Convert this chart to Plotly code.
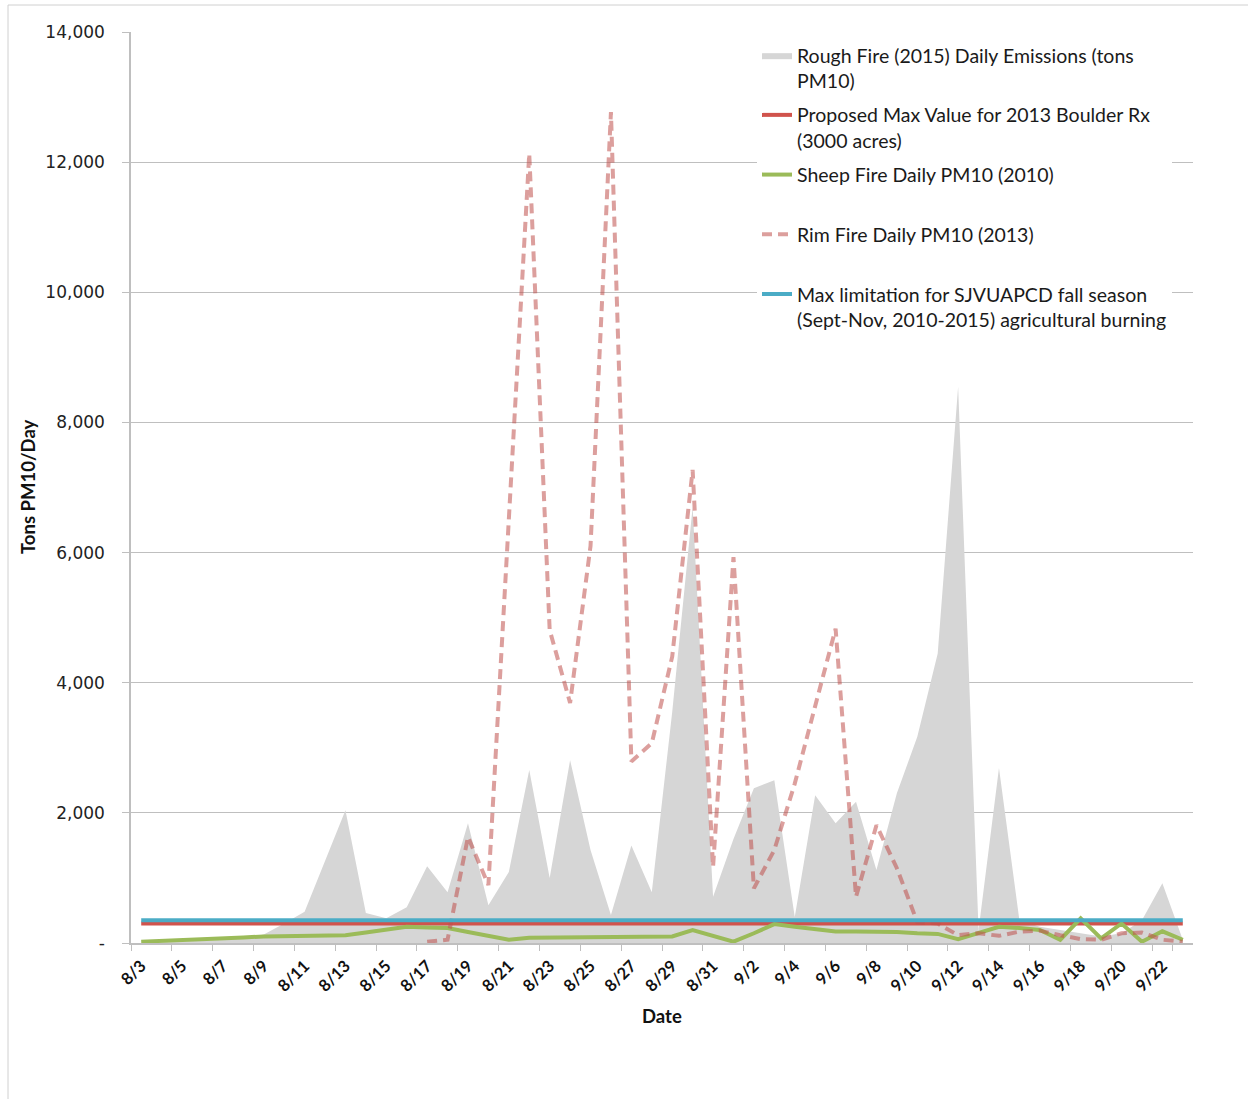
import plotly.graph_objects as go

# ---------------- data ----------------
dates = ["8/3", "8/4", "8/5", "8/6", "8/7", "8/8", "8/9", "8/10", "8/11", "8/12",
         "8/13", "8/14", "8/15", "8/16", "8/17", "8/18", "8/19", "8/20", "8/21", "8/22",
         "8/23", "8/24", "8/25", "8/26", "8/27", "8/28", "8/29", "8/30", "8/31",
         "9/1", "9/2", "9/3", "9/4", "9/5", "9/6", "9/7", "9/8", "9/9", "9/10",
         "9/11", "9/12", "9/13", "9/14", "9/15", "9/16", "9/17", "9/18", "9/19", "9/20",
         "9/21", "9/22", "9/23"]

rough_fire = [0, 10, 20, 30, 50, 70, 130, 300, 480, 1260,
              2040, 460, 380, 550, 1180, 780, 1840, 580, 1090, 2660,
              1000, 2810, 1430, 430, 1500, 780, 3550, 6700, 710,
              1600, 2380, 2500, 400, 2270, 1840, 2170, 1120, 2300, 3170,
              4450, 8550, 200, 2690, 350, 250, 200, 150, 100, 150,
              350, 920, 50]

sheep_fire = [20, 30, 40, 55, 70, 85, 100, 105, 110, 115,
              120, 160, 205, 250, 240, 230, 170, 110, 50, 80,
              82, 85, 88, 90, 93, 96, 100, 200, 110,
              20, 150, 290, 250, 210, 175, 178, 180, 170, 150,
              140, 60, 150, 250, 230, 200, 50, 380, 70, 300,
              20, 180, 50]

rim_fire = [None, None, None, None, None, None, None, None, None, None,
            None, None, None, None, 20, 50, 1630, 890, 6510, 12130,
            4810, 3690, 6100, 12770, 2790, 3070, 4400, 7270, 1170,
            5930, 840, 1430, 2450, 3650, 4830, 710, 1810, 1150, 320,
            300, 120, 150, 110, 175, 190, 120, 60, 50, 150,
            160, 50, 20]

proposed_max_value = 300
sjv_limit_value = 350

y_tick_values = [0, 2000, 4000, 6000, 8000, 10000, 12000, 14000]
y_tick_labels = ["-", "2,000", "4,000", "6,000", "8,000", "10,000", "12,000", "14,000"]
x_tick_labels = dates[::2]

names = [
    "Rough Fire (2015) Daily Emissions (tons<br>PM10)",
    "Proposed Max Value for 2013 Boulder Rx<br>(3000 acres)",
    "Sheep Fire Daily PM10 (2010)<br>\u00a0",
    "Rim Fire Daily PM10 (2013)<br>\u00a0",
    "Max limitation for SJVUAPCD fall season<br>(Sept-Nov, 2010-2015) agricultural burning",
]

# ---------------- layout geometry (pixels) ----------------
W, H = 1248, 1099
L, R, T, B = 131, 1193, 32, 943
pw, ph = R - L, B - T


def px_x(x):
    return (x - L) / pw


def px_y(y):
    return (B - y) / ph


fig = go.Figure()

fig.add_trace(go.Scatter(
    x=dates, y=rough_fire, name=names[0], mode="lines",
    fill="tozeroy", fillcolor="rgb(214,214,214)",
    line=dict(width=0, color="rgb(214,214,214)"),
    legendgroup="g0",
))
fig.add_trace(go.Scatter(
    x=dates, y=[proposed_max_value] * len(dates), name=names[1], mode="lines",
    line=dict(color="#D0534C", width=4),
    legendgroup="g1",
))
fig.add_trace(go.Scatter(
    x=dates, y=sheep_fire, name=names[2], mode="lines",
    line=dict(color="#9BBB59", width=4),
    legendgroup="g2",
))
fig.add_trace(go.Scatter(
    x=dates, y=rim_fire, name=names[3], mode="lines",
    line=dict(color="rgba(192,80,77,0.55)", width=4, dash="10px,6px"),
    connectgaps=False,
    legendgroup="g3",
))
fig.add_trace(go.Scatter(
    x=dates, y=[sjv_limit_value] * len(dates), name=names[4], mode="lines",
    line=dict(color="#4BACC6", width=4),
    legendgroup="g4",
))

fig.update_layout(
    width=W, height=H,
    margin=dict(l=L, r=W - R, t=T, b=H - B),
    paper_bgcolor="white", plot_bgcolor="white",
    font=dict(family="Lato, Open Sans, sans-serif", color="#1a1a1a"),
    showlegend=True,
    legend=dict(
        x=px_x(757), y=px_y(36), xanchor="left", yanchor="top",
        bgcolor="white", borderwidth=0,
        font=dict(family="Lato, sans-serif", size=19.5, color="#1a1a1a"),
        valign="top", tracegroupgap=6, itemwidth=30,
    ),
    xaxis=dict(
        type="category", categoryorder="array", categoryarray=dates,
        range=[-0.5, len(dates) - 0.5],
        tickmode="array", tickvals=x_tick_labels, ticktext=x_tick_labels,
        tickson="boundaries", ticks="outside", ticklen=6, tickcolor="#BFBFBF",
        tickangle=-45, ticklabelstandoff=5,
        tickfont=dict(family="Lato, sans-serif", size=16.5, color="#111111", weight="bold"),
        showline=True, linecolor="#BFBFBF", linewidth=1.5,
        showgrid=False, zeroline=False,
    ),
    yaxis=dict(
        range=[0, 14000],
        tickmode="array", tickvals=y_tick_values, ticktext=y_tick_labels,
        ticks="outside", ticklen=7, tickcolor="#BFBFBF",
        ticklabelstandoff=14,
        tickfont=dict(family="DejaVu Sans, Verdana, sans-serif", size=17, color="#222222"),
        showline=True, linecolor="#BFBFBF", linewidth=1.5,
        showgrid=True, gridcolor="#BFBFBF", gridwidth=1,
        zeroline=False,
    ),
    annotations=[
        dict(text="<b>Tons PM10/Day</b>", x=px_x(28), y=px_y(487), xref="paper", yref="paper",
             textangle=-90, showarrow=False, font=dict(family="Lato, sans-serif", size=18.5, color="#111111"),
             xanchor="center", yanchor="middle"),
        dict(text="<b>Date</b>", x=px_x(662), y=px_y(1016), xref="paper", yref="paper",
             showarrow=False, font=dict(family="Lato, sans-serif", size=18.5, color="#111111"),
             xanchor="center", yanchor="middle"),
    ],
    shapes=[
        dict(type="rect", xref="paper", yref="paper",
             x0=px_x(8), x1=px_x(1262), y0=px_y(1112), y1=px_y(5),
             line=dict(color="#D0D0D0", width=1), fillcolor="rgba(0,0,0,0)", layer="below"),
    ],
)

fig.write_html(
    "out.html",
    config={"displayModeBar": False},
    post_script="document.body.style.margin='0';document.body.style.padding='0';"
                "document.body.style.overflow='hidden';",
)
